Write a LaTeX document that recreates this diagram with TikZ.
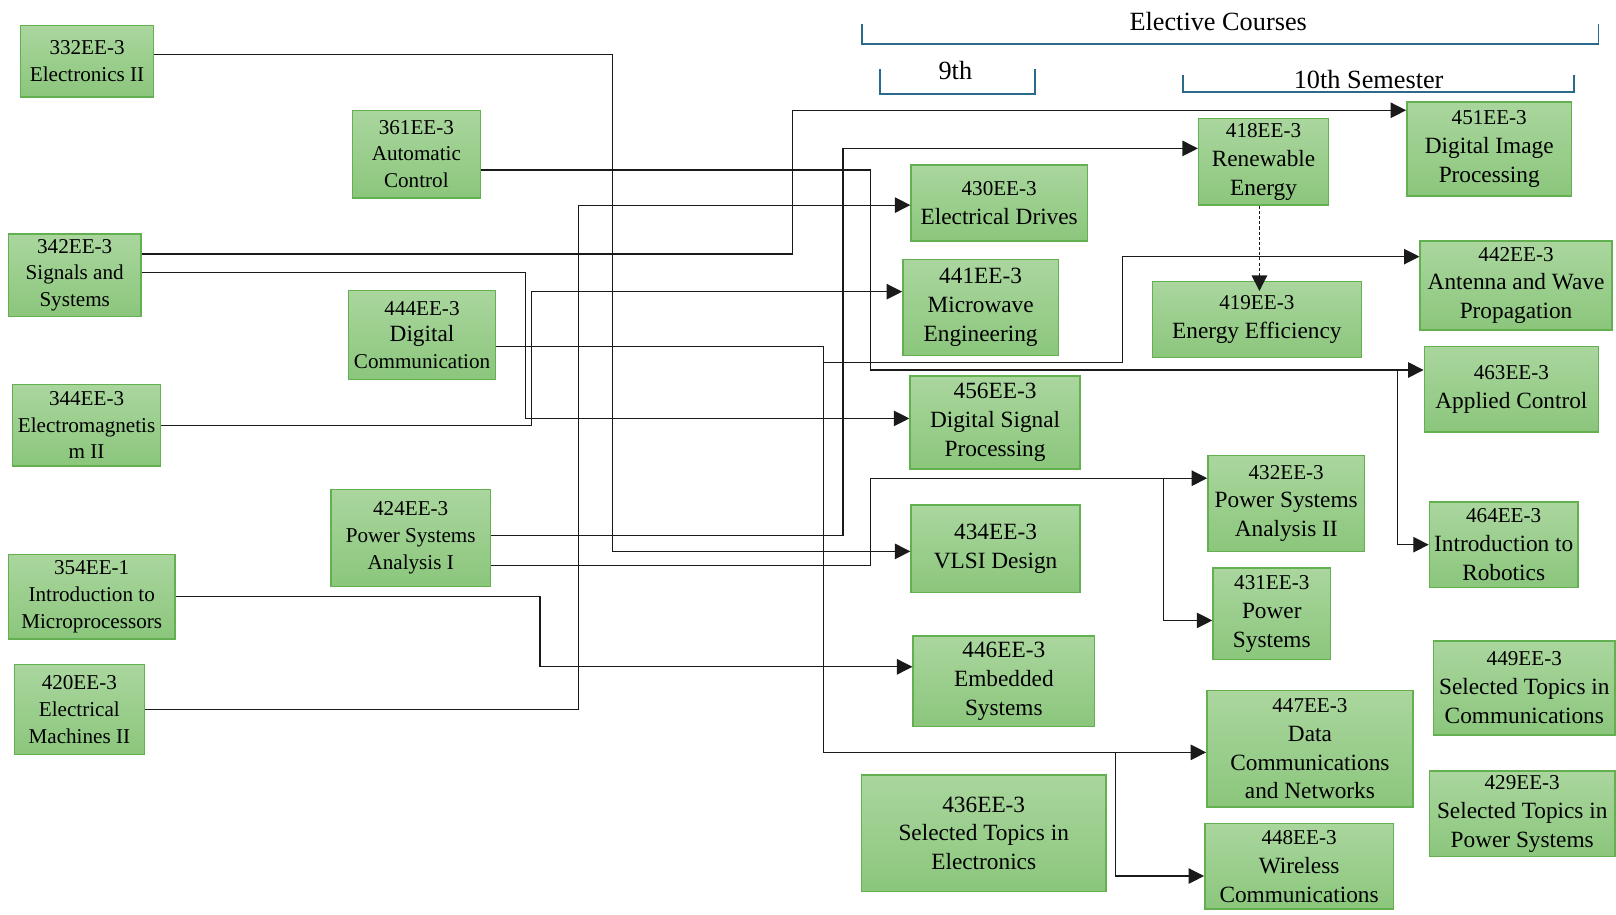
\documentclass[tikz,border=0pt]{standalone}
\usepackage{fontspec}
\setmainfont{Liberation Serif}
\newfontfamily\tnr{Liberation Serif}
\usetikzlibrary{arrows.meta}
\definecolor{boxtop}{HTML}{AAD69E}
\definecolor{boxbot}{HTML}{8BC67C}
\definecolor{boxline}{HTML}{62B04F}
\definecolor{brk}{HTML}{2B6A8C}
\definecolor{wire}{HTML}{1A1A1A}
\tikzset{
  box/.style={draw=boxline, line width=1.4pt, top color=boxtop, bottom color=boxbot,
    inner sep=0pt, align=center, text=black},
  lbox/.style={box, font=\tnr\fontsize{20.5}{26}\selectfont},
  rbox/.style={box, font=\tnr\fontsize{22.6}{28}\selectfont},
  conn/.style={draw=wire, line width=1.1pt},
  arr/.style={conn, -{Triangle[length=15pt,width=15pt]}},
  darr/.style={conn, dash pattern=on 3pt off 2pt, -{Triangle[length=15pt,width=15pt]}},
  bracket/.style={draw=brk, line width=1.8pt},
  hdr/.style={font=\tnr\fontsize{25.5}{30}\selectfont, inner sep=0pt}
}
\begin{document}
\begin{tikzpicture}[x=1pt, y=-1pt]
\useasboundingbox (0,0) rectangle (1568,887);

% header brackets
\draw[bracket] (836,23) -- (836,43) -- (1551,43) -- (1551,23);
\node[hdr] (elec) at (1182,21) {Elective Courses};
\draw[bracket] (854,67) -- (854,91) -- (1004,91) -- (1004,67);
\node[hdr] (ninth) at (927,68) {9th};
\draw[bracket] (1148,73) -- (1148,89) -- (1527,89) -- (1527,73);
\node[hdr] (tenth) at (1328,77) {10th Semester};

% left column
\node[lbox, minimum width=129pt, minimum height=69pt] (c332) at (84.5,59.5) {332EE-3\\Electronics II};
\node[lbox, minimum width=124pt, minimum height=85pt] (c361) at (404,149.5) {361EE-3\\Automatic\\Control};
\node[lbox, minimum width=129pt, minimum height=80pt] (c342) at (72.5,267) {342EE-3\\Signals and\\Systems};
\node[lbox, minimum width=143pt, minimum height=86pt] (c444) at (409.5,325) {444EE-3\\{\fontsize{22.6}{28}\selectfont Digital}\\Communication};
\node[lbox, minimum width=144pt, minimum height=79pt] (c344) at (84,412.5) {344EE-3\\Electromagnetis\\m II};
\node[lbox, minimum width=155pt, minimum height=94pt] (c424) at (398.5,522) {424EE-3\\Power Systems\\Analysis I};
\node[lbox, minimum width=162pt, minimum height=82pt] (c354) at (89,579) {354EE-1\\Introduction to\\Microprocessors};
\node[lbox, minimum width=126pt, minimum height=87pt] (c420) at (77,688.5) {420EE-3\\Electrical\\Machines II};

% middle column
\node[rbox, minimum width=171pt, minimum height=74pt] (c430) at (969.5,197) {{\fontsize{20.5}{26}\selectfont 430EE-3}\\Electrical Drives};
\node[rbox, minimum width=151pt, minimum height=93pt] (c441) at (951.5,298.5) {441EE-3\\Microwave\\Engineering};
\node[rbox, minimum width=165pt, minimum height=90pt] (c456) at (965.5,410) {456EE-3\\Digital Signal\\Processing};
\node[rbox, minimum width=164pt, minimum height=85pt] (c434) at (966,532.5) {434EE-3\\VLSI Design};
\node[rbox, minimum width=176pt, minimum height=88pt] (c446) at (974,661) {446EE-3\\Embedded\\Systems};
\node[rbox, minimum width=237pt, minimum height=113pt] (c436) at (954.5,808.5) {436EE-3\\Selected Topics in\\Electronics};

% right-middle column
\node[rbox, minimum width=126pt, minimum height=84pt] (c418) at (1226,157) {{\fontsize{20.5}{26}\selectfont 418EE-3}\\Renewable\\Energy};
\node[rbox, minimum width=203pt, minimum height=74pt] (c419) at (1219.5,310) {{\fontsize{20.5}{26}\selectfont 419EE-3}\\Energy Efficiency};
\node[rbox, minimum width=152pt, minimum height=93pt] (c432) at (1248,488.5) {{\fontsize{20.5}{26}\selectfont 432EE-3}\\Power Systems\\Analysis II};
\node[rbox, minimum width=114pt, minimum height=89pt] (c431) at (1234,595.5) {{\fontsize{20.5}{26}\selectfont 431EE-3}\\Power\\Systems};
\node[rbox, minimum width=200pt, minimum height=113pt] (c447) at (1271,726.5) {{\fontsize{20.5}{26}\selectfont 447EE-3}\\Data\\Communications\\and Networks};
\node[rbox, minimum width=183pt, minimum height=83pt] (c448) at (1260.5,840.5) {{\fontsize{20.5}{26}\selectfont 448EE-3}\\Wireless\\Communications};

% right column
\node[rbox, minimum width=160pt, minimum height=91pt] (c451) at (1445,144.5) {{\fontsize{20.5}{26}\selectfont 451EE-3}\\Digital Image\\Processing};
\node[rbox, minimum width=186pt, minimum height=86pt] (c442) at (1471,277) {{\fontsize{20.5}{26}\selectfont 442EE-3}\\Antenna and Wave\\Propagation};
\node[rbox, minimum width=169pt, minimum height=83pt] (c463) at (1466.5,377.5) {{\fontsize{20.5}{26}\selectfont 463EE-3}\\Applied Control};
\node[rbox, minimum width=144pt, minimum height=83pt] (c464) at (1459,528.5) {{\fontsize{20.5}{26}\selectfont 464EE-3}\\Introduction to\\Robotics};
\node[rbox, minimum width=176pt, minimum height=91pt] (c449) at (1479,667.5) {{\fontsize{20.5}{26}\selectfont 449EE-3}\\Selected Topics in\\Communications};
\node[rbox, minimum width=180pt, minimum height=83pt] (c429) at (1477,789.5) {{\fontsize{20.5}{26}\selectfont 429EE-3}\\Selected Topics in\\Power Systems};

% connectors
\draw[arr] ([yshift=7pt]c332.east) -| (594,535) -- ([yshift=-2.5pt]c434.west);
\draw[arr] ([yshift=-15.5pt]c361.east) -| (845,359) -- ([yshift=18.5pt]c463.west);
\draw[arr] (1356,359) |- (c464.west);
\draw[arr] ([yshift=20.5pt]c342.east) -| (769,107) -- ([yshift=37.5pt]c451.west);
\draw[arr] ([yshift=3pt]c342.east) -| (510,406) -- ([yshift=4pt]c456.west);
\draw[arr] (c344.east) -| (516,283) -- ([yshift=15.5pt]c441.west);
\draw[arr] ([yshift=-11.5pt]c444.east) -| (799,730) -- ([yshift=-3.5pt]c447.west);
\draw[arr] (1082,730) |- ([yshift=-9.5pt]c448.west);
\draw[arr] (799,352) -| (1089,249) -- ([yshift=28pt]c442.west);
\draw[arr] ([yshift=2pt]c424.east) -| (818,144) -- ([yshift=13pt]c418.west);
\draw[arr] ([yshift=-27pt]c424.east) -| (845,464) -- ([yshift=24.5pt]c432.west);
\draw[arr] (1129,464) |- ([yshift=-6.5pt]c431.west);
\draw[arr] (c354.east) -| (524,647) -- ([yshift=14pt]c446.west);
\draw[arr] (c420.east) -| (561,199) -- ([yshift=-2pt]c430.west);
\draw[darr] ([xshift=-4pt]c418.south) -- ([xshift=-4pt,yshift=-10pt]c418.south |- c419.north);
\end{tikzpicture}
\end{document}
